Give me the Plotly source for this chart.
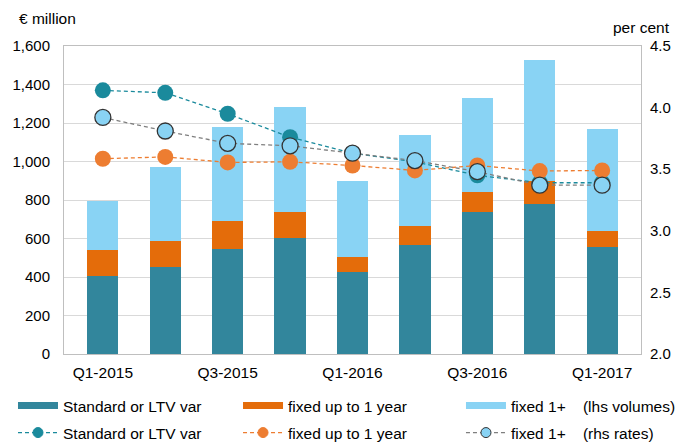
import plotly.graph_objects as go

quarters = ["Q1-2015", "Q2-2015", "Q3-2015", "Q4-2015", "Q1-2016",
            "Q2-2016", "Q3-2016", "Q4-2016", "Q1-2017"]
tick_labels = ["Q1-2015", "Q3-2015", "Q1-2016", "Q3-2016", "Q1-2017"]

# volumes (EUR million), lhs
vol_standard = [405, 452, 544, 601, 426, 565, 739, 779, 554]
vol_fixed_1y = [135, 135, 147, 135, 78, 100, 104, 120, 87]
vol_fixed_1p = [257, 383, 490, 545, 395, 473, 487, 627, 526]

# rates (per cent), rhs
rate_standard = [4.14, 4.12, 3.95, 3.76, 3.63, 3.56, 3.45, 3.39, 3.39]
rate_fixed_1y = [3.585, 3.60, 3.555, 3.56, 3.53, 3.49, 3.53, 3.485, 3.49]
rate_fixed_1p = [3.92, 3.81, 3.71, 3.69, 3.63, 3.57, 3.48, 3.37, 3.37]

C_TEAL_BAR = "#32869C"
C_ORANGE_BAR = "#E46C0A"
C_LBLUE = "#89D3F4"
C_TEAL_LINE = "#1A8A9C"
C_ORANGE_LINE = "#ED7D31"
C_GREY_LINE = "#7F7F7F"
C_OUTLINE = "#333333"
DASH = "4px,3px"

FONT = "Liberation Sans, Arial, sans-serif"
GAP = "\u00a0" * 4

fig = go.Figure()

for name, vals, col in [("Standard or LTV var", vol_standard, C_TEAL_BAR),
                        ("fixed up to 1 year", vol_fixed_1y, C_ORANGE_BAR),
                        ("fixed 1+ (lhs volumes)", vol_fixed_1p, C_LBLUE)]:
    fig.add_trace(go.Bar(x=quarters, y=vals, name=name, marker_color=col,
                         marker_line_width=0, width=0.5, showlegend=False))

fig.add_trace(go.Scatter(x=quarters, y=rate_standard, yaxis="y2", mode="lines+markers",
                         line=dict(color=C_TEAL_LINE, dash=DASH, width=1.3),
                         marker=dict(color=C_TEAL_LINE, size=16),
                         showlegend=False))
fig.add_trace(go.Scatter(x=quarters, y=rate_fixed_1y, yaxis="y2", mode="lines+markers",
                         line=dict(color=C_ORANGE_LINE, dash=DASH, width=1.3),
                         marker=dict(color=C_ORANGE_LINE, size=16),
                         showlegend=False))
fig.add_trace(go.Scatter(x=quarters, y=rate_fixed_1p, yaxis="y2", mode="lines+markers",
                         line=dict(color=C_GREY_LINE, dash=DASH, width=1.3),
                         marker=dict(color=C_LBLUE, size=16,
                                     line=dict(color=C_OUTLINE, width=1.3)),
                         showlegend=False))

# legend entries, one legend per entry so each can be placed exactly
leg_x = [-0.0884, 0.3016, 0.688]
leg_y = [-0.1688, -0.2565]
legend_layouts = {}
k = 1
for name, col in [("Standard or LTV var", C_TEAL_BAR),
                  ("fixed up to 1 year", C_ORANGE_BAR),
                  ("fixed 1+" + GAP + "(lhs volumes)", C_LBLUE)]:
    lid = "legend" if k == 1 else f"legend{k}"
    fig.add_trace(go.Scatter(x=[None], y=[None], mode="lines", name=name,
                             line=dict(color=col, width=7), legend=lid))
    legend_layouts[lid] = dict(x=leg_x[(k - 1) % 3], y=leg_y[0])
    k += 1
for name, lc, mc, ml in [("Standard or LTV var", C_TEAL_LINE, C_TEAL_LINE, C_TEAL_LINE),
                         ("fixed up to 1 year", C_ORANGE_LINE, C_ORANGE_LINE, C_ORANGE_LINE),
                         ("fixed 1+" + GAP + "(rhs rates)", C_GREY_LINE, C_LBLUE, C_OUTLINE)]:
    lid = f"legend{k}"
    fig.add_trace(go.Scatter(x=[None], y=[None], mode="lines+markers", name=name,
                             line=dict(color=lc, width=1.3, dash=DASH),
                             marker=dict(color=mc, size=10, line=dict(color=ml, width=1)),
                             legend=lid))
    legend_layouts[lid] = dict(x=leg_x[(k - 1) % 3], y=leg_y[1])
    k += 1

legend_common = dict(orientation="v", xanchor="left", yanchor="middle",
                     font=dict(family=FONT, size=15.5, color="#000000"),
                     bgcolor="rgba(0,0,0,0)", itemwidth=40)

fig.update_layout(
    width=692, height=443,
    margin=dict(l=64, r=51, t=46, b=89, autoexpand=False),
    paper_bgcolor="white", plot_bgcolor="white",
    barmode="stack", bargap=0.5,
    font=dict(family=FONT, size=15, color="#000000"),
    xaxis=dict(type="category", tickmode="array", tickvals=tick_labels,
               ticktext=tick_labels, showline=True, linecolor="#BFBFBF",
               mirror=True, ticks="", showgrid=False, tickfont=dict(size=15.5),
               ticklabelstandoff=4, automargin=False),
    yaxis=dict(range=[0, 1600], dtick=200, tickformat=",d", showgrid=True,
               gridcolor="#D9D9D9", showline=True, linecolor="#BFBFBF",
               mirror=True, ticks="", zeroline=False, tickfont=dict(size=15),
               ticklabelstandoff=10, automargin=False),
    yaxis2=dict(range=[2, 4.5], dtick=0.5, tickformat=".1f", overlaying="y",
                side="right", showgrid=False, zeroline=False, showline=False,
                ticks="", tickfont=dict(size=15), ticklabelstandoff=8,
                automargin=False),
    annotations=[
        dict(text="€ million", xref="paper", yref="paper", x=-0.082, y=1.0,
             xanchor="left", yanchor="middle", yshift=28, showarrow=False,
             font=dict(size=15.5)),
        dict(text="per cent", xref="paper", yref="paper", x=1.0537, y=1.0,
             xanchor="right", yanchor="middle", yshift=19, showarrow=False,
             font=dict(size=15.5)),
    ],
)
for lid, pos in legend_layouts.items():
    fig.update_layout({lid: dict(**legend_common, **pos)})

fig.write_html("out.html", config={"displayModeBar": False},
               post_script="document.body.style.margin='0';document.body.style.overflow='hidden';")
